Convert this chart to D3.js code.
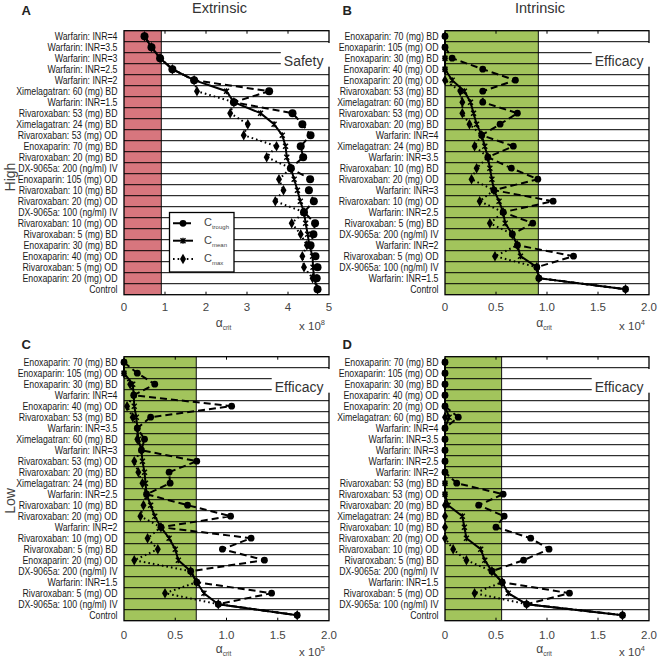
<!DOCTYPE html>
<html><head><meta charset="utf-8">
<script src="https://cdn.jsdelivr.net/npm/d3@7"></script>
<style>body{margin:0;background:#fff} svg{display:block}</style>
</head><body>
<script>
// ---------- DATA ----------
const catsA = ["Warfarin: INR=4","Warfarin: INR=3.5","Warfarin: INR=3","Warfarin: INR=2.5","Warfarin: INR=2","Ximelagatran: 60 (mg) BD","Warfarin: INR=1.5","Rivaroxaban: 53 (mg) BD","Ximelagatran: 24 (mg) BD","Rivaroxaban: 53 (mg) OD","Enoxaparin: 70 (mg) BD","Rivaroxaban: 20 (mg) BD","DX-9065a: 200 (ng/ml) IV","Enoxaparin: 105 (mg) OD","Rivaroxaban: 10 (mg) BD","Rivaroxaban: 20 (mg) OD","DX-9065a: 100 (ng/ml) IV","Rivaroxaban: 10 (mg) OD","Rivaroxaban: 5 (mg) BD","Enoxaparin: 30 (mg) BD","Enoxaparin: 40 (mg) OD","Rivaroxaban: 5 (mg) OD","Enoxaparin: 20 (mg) OD","Control"];
const troughA = [0.50,0.67,0.88,1.18,1.71,3.54,2.68,4.11,4.35,4.55,4.31,4.37,4.07,4.54,4.51,4.63,4.39,4.66,4.62,4.55,4.67,4.72,4.70,4.72];
const meanA   = [0.50,0.67,0.88,1.18,1.71,2.50,2.68,3.33,3.66,3.86,3.94,3.97,4.07,4.15,4.23,4.30,4.39,4.43,4.48,4.52,4.60,4.61,4.64,4.72];
const maxA    = [0.50,0.67,0.88,1.18,1.71,1.78,2.68,2.59,3.02,2.92,3.72,3.48,4.07,3.78,3.89,3.69,4.39,4.09,4.31,4.46,4.35,4.39,4.60,4.72];

const catsB = ["Enoxaparin: 70 (mg) BD","Enoxaparin: 105 (mg) OD","Enoxaparin: 30 (mg) BD","Enoxaparin: 40 (mg) OD","Enoxaparin: 20 (mg) OD","Rivaroxaban: 53 (mg) BD","Ximelagatran: 60 (mg) BD","Rivaroxaban: 53 (mg) OD","Rivaroxaban: 20 (mg) BD","Warfarin: INR=4","Ximelagatran: 24 (mg) BD","Warfarin: INR=3.5","Rivaroxaban: 10 (mg) BD","Rivaroxaban: 20 (mg) OD","Warfarin: INR=3","Rivaroxaban: 10 (mg) OD","Warfarin: INR=2.5","Rivaroxaban: 5 (mg) BD","DX-9065a: 200 (ng/ml) IV","Warfarin: INR=2","Rivaroxaban: 5 (mg) OD","DX-9065a: 100 (ng/ml) IV","Warfarin: INR=1.5","Control"];
const troughB = [0,0,0.07,0.37,0.69,0.37,0.37,0.71,0.54,0.36,0.67,0.42,0.65,0.91,0.48,1.06,0.57,0.86,0.66,0.71,1.26,0.90,0.92,1.77];
const meanB   = [0,0,0,0,0.07,0.19,0.25,0.28,0.31,0.36,0.39,0.42,0.44,0.46,0.48,0.53,0.57,0.59,0.66,0.71,0.74,0.90,0.92,1.77];
const maxB    = [0,0,0,0,0,0.15,0.17,0.17,0.24,0.36,0.29,0.42,0.31,0.26,0.48,0.34,0.57,0.44,0.66,0.71,0.49,0.90,0.92,1.77];

const catsC = ["Enoxaparin: 70 (mg) BD","Enoxaparin: 105 (mg) OD","Enoxaparin: 30 (mg) BD","Warfarin: INR=4","Enoxaparin: 40 (mg) OD","Rivaroxaban: 53 (mg) BD","Warfarin: INR=3.5","Ximelagatran: 60 (mg) BD","Warfarin: INR=3","Rivaroxaban: 53 (mg) OD","Rivaroxaban: 20 (mg) BD","Ximelagatran: 24 (mg) BD","Warfarin: INR=2.5","Rivaroxaban: 10 (mg) BD","Rivaroxaban: 20 (mg) OD","Warfarin: INR=2","Rivaroxaban: 10 (mg) OD","Rivaroxaban: 5 (mg) BD","Enoxaparin: 20 (mg) OD","DX-9065a: 200 (ng/ml) IV","Warfarin: INR=1.5","Rivaroxaban: 5 (mg) OD","DX-9065a: 100 (ng/ml) IV","Control"];
const troughC = [0,0.13,0.30,0.095,1.05,0.26,0.13,0.20,0.17,0.71,0.44,0.45,0.22,0.62,1.04,0.36,1.24,0.96,1.37,0.65,0.71,1.44,0.92,1.69];
const meanC   = [0,0,0.085,0.095,0.10,0.12,0.13,0.14,0.17,0.18,0.20,0.21,0.22,0.26,0.30,0.36,0.44,0.50,0.53,0.65,0.71,0.78,0.92,1.69];
const maxC    = [0,0,0.06,0.095,0.03,0.085,0.13,0.13,0.17,0.10,0.14,0.18,0.22,0.19,0.16,0.36,0.23,0.33,0.10,0.65,0.71,0.40,0.92,1.69];

const catsD = ["Enoxaparin: 70 (mg) BD","Enoxaparin: 105 (mg) OD","Enoxaparin: 30 (mg) BD","Enoxaparin: 40 (mg) OD","Enoxaparin: 20 (mg) OD","Ximelagatran: 60 (mg) BD","Warfarin: INR=4","Warfarin: INR=3.5","Warfarin: INR=3","Warfarin: INR=2.5","Warfarin: INR=2","Rivaroxaban: 53 (mg) BD","Rivaroxaban: 53 (mg) OD","Rivaroxaban: 20 (mg) BD","Ximelagatran: 24 (mg) BD","Rivaroxaban: 10 (mg) BD","Rivaroxaban: 20 (mg) OD","Rivaroxaban: 10 (mg) OD","Rivaroxaban: 5 (mg) BD","DX-9065a: 200 (ng/ml) IV","Warfarin: INR=1.5","Rivaroxaban: 5 (mg) OD","DX-9065a: 100 (ng/ml) IV","Control"];
const troughD = [0,0,0,0,0,0.13,0,0,0,0,0,0.115,0.57,0.33,0.58,0.50,0.84,1.02,0.77,0.46,0.56,1.22,0.80,1.74];
const meanD   = [0,0,0,0,0,0.04,0,0,0,0,0,0,0,0.03,0.17,0.19,0.21,0.35,0.39,0.46,0.56,0.62,0.80,1.74];
const maxD    = [0,0,0,0,0,0,0,0,0,0,0,0,0,0,0,0,0,0.08,0.21,0.46,0.56,0.29,0.80,1.74];

const ticksA = [0,1,2,3,4,5];
const tickLabelsA = ["0","1","2","3","4","5"];
const ticksB = [0,0.5,1,1.5,2];
const tickLabelsB = ["0","0.5","1.0","1.5","2.0"];

const thresholds = {A:0.91, B:0.915, C:0.705, D:0.555};
const exponents = {A:"8", B:"4", C:"5", D:"4"};
const boxTexts = {A:"Safety", B:"Efficacy", C:"Efficacy", D:"Efficacy"};
const titles = {A:"Extrinsic", B:"Intrinsic"};
const legendLabels = ["trough","mean","max"];

// ---------- LAYOUT ----------
const W=661,H=658;
const PINK="#D7767E", GREEN="#A2C45C";
const svg=d3.select("body").append("svg").attr("width",W).attr("height",H)
  .style("font-family","'Liberation Sans', Arial, sans-serif");

const panels = [
  {id:"A", cats:catsA, trough:troughA, mean:meanA, max:maxA, ticks:ticksA, tl:tickLabelsA, domain:[0,5], x0:124, x1:329, y0:30.7, y1:294.7, band:PINK, r:4.0, tOff:15.8, lx:21.5, ly:14.5},
  {id:"B", cats:catsB, trough:troughB, mean:meanB, max:maxB, ticks:ticksB, tl:tickLabelsB, domain:[0,2], x0:445, x1:649, y0:30.7, y1:294.7, band:GREEN, r:3.4, tOff:15.8, lx:342.5, ly:14.5},
  {id:"C", cats:catsC, trough:troughC, mean:meanC, max:maxC, ticks:ticksB, tl:tickLabelsB, domain:[0,2], x0:124, x1:329, y0:356.7, y1:620.7, band:GREEN, r:3.4, tOff:18, lx:21.5, ly:349},
  {id:"D", cats:catsD, trough:troughD, mean:meanD, max:maxD, ticks:ticksB, tl:tickLabelsB, domain:[0,2], x0:445, x1:649, y0:356.7, y1:620.7, band:GREEN, r:3.4, tOff:18, lx:342.5, ly:349},
];

const diamond = "M0,-5.3L3,0L0,5.3L-3,0Z";
function meanMark(sel){
  sel.append("path").attr("d","M-2.5,-2.5L2.5,2.5M-2.5,2.5L2.5,-2.5M0,-3L0,3")
    .attr("stroke","#000").attr("stroke-width",1.4).attr("fill","none");
}

panels.forEach(p=>{
  const x=d3.scaleLinear().domain(p.domain).range([p.x0,p.x1]);
  const y=d3.scaleBand().domain(p.cats).range([p.y0,p.y1]);
  const yc=c=>y(c)+y.bandwidth()/2;
  const g=svg.append("g");

  g.append("rect").attr("x",x(0)).attr("y",p.y0).attr("width",x(thresholds[p.id])-x(0))
    .attr("height",p.y1-p.y0).attr("fill",p.band);
  g.append("line").attr("x1",x(thresholds[p.id])).attr("x2",x(thresholds[p.id]))
    .attr("y1",p.y0).attr("y2",p.y1).attr("stroke","#111").attr("stroke-width",1);

  g.selectAll("line.row").data(p.cats.slice(1)).join("line").attr("class","row")
    .attr("x1",p.x0).attr("x2",p.x1).attr("y1",d=>y(d)).attr("y2",d=>y(d))
    .attr("stroke","#000").attr("stroke-width",1);

  g.append("rect").attr("x",p.x0).attr("y",p.y0).attr("width",p.x1-p.x0).attr("height",p.y1-p.y0)
    .attr("fill","none").attr("stroke","#000").attr("stroke-width",1.3);

  // box label
  const bw = y.bandwidth();
  const tx = g.append("text").attr("x",p.x1-5.5).attr("y",p.y0+bw*3.2).attr("text-anchor","end")
    .attr("font-size",14).attr("fill","#333").text(boxTexts[p.id]);
  const tw = tx.node().getComputedTextLength();
  g.insert("rect","text").attr("x",p.x1-5.5-tw-3).attr("y",p.y0+bw*1.12)
    .attr("width",tw+3+8).attr("height",bw*2.15).attr("fill","#fff");

  // ticks
  const inner = p.ticks.slice(1,-1);
  g.selectAll("line.tt").data(inner).join("line").attr("x1",d=>x(d)).attr("x2",d=>x(d))
    .attr("y1",p.y0).attr("y2",p.y0+3).attr("stroke","#000");
  g.selectAll("line.bt").data(inner).join("line").attr("x1",d=>x(d)).attr("x2",d=>x(d))
    .attr("y1",p.y1-3).attr("y2",p.y1).attr("stroke","#000");
  g.selectAll("text.tl").data(p.ticks).join("text").attr("class","tl")
    .attr("x",d=>x(d)).attr("y",p.y1+p.tOff).attr("text-anchor","middle")
    .attr("font-size",11.5).attr("fill","#444").text((d,i)=>p.tl[i]);

  // category labels (condensed)
  p.cats.forEach(c=>{
    g.append("g").attr("transform",`translate(${p.x0-6.5},${yc(c)}) scale(0.77,1)`)
      .append("text").attr("text-anchor","end").attr("dy","0.36em")
      .attr("font-size",11.4).attr("fill","#1a1a1a").text(c);
  });

  // x axis label
  const xl = g.append("text").attr("x",(p.x0+p.x1)/2-3).attr("y",p.y1+32.5)
    .attr("text-anchor","middle").attr("fill","#444");
  xl.append("tspan").attr("font-size",12).text("α");
  xl.append("tspan").attr("font-size",6.5).attr("dy",2.5).text("crit");
  const xe = g.append("text").attr("x",p.x1-4).attr("y",p.y1+35.5)
    .attr("text-anchor","end").attr("fill","#444");
  xe.append("tspan").attr("font-size",11.5).text("x 10");
  xe.append("tspan").attr("font-size",7.5).attr("dy",-5).text(exponents[p.id]);

  // lines
  const mk = arr => d3.line().x((d,i)=>x(arr[i])).y((d,i)=>yc(p.cats[i]));
  g.append("path").datum(p.cats).attr("d",mk(p.max)).attr("fill","none")
    .attr("stroke","#000").attr("stroke-width",2).attr("stroke-dasharray","1.6,3");
  g.append("path").datum(p.cats).attr("d",mk(p.trough)).attr("fill","none")
    .attr("stroke","#000").attr("stroke-width",2).attr("stroke-dasharray","7,4");
  g.append("path").datum(p.cats).attr("d",mk(p.mean)).attr("fill","none")
    .attr("stroke","#000").attr("stroke-width",2);

  // markers
  g.selectAll("path.dm").data(p.cats).join("path").attr("class","dm")
    .attr("transform",(d,i)=>`translate(${x(p.max[i])},${yc(d)})`).attr("d",diamond).attr("fill","#000");
  g.selectAll("circle.tr").data(p.cats).join("circle").attr("class","tr")
    .attr("cx",(d,i)=>x(p.trough[i])).attr("cy",d=>yc(d)).attr("r",p.r).attr("fill","#000");
  p.cats.forEach((c,i)=>{
    meanMark(g.append("g").attr("transform",`translate(${x(p.mean[i])},${yc(c)})`));
  });

  // panel letter and title
  svg.append("text").attr("x",p.lx).attr("y",p.ly).attr("font-size",13)
    .attr("font-weight","bold").attr("fill","#222").text(p.id);
  if(titles[p.id]) svg.append("text").attr("x",(p.x0+p.x1)/2-7).attr("y",13)
    .attr("text-anchor","middle").attr("font-size",14.5).attr("fill","#333").text(titles[p.id]);
});

// row group labels
svg.append("text").attr("transform","translate(14.5,177) rotate(-90)").attr("text-anchor","middle")
  .attr("font-size",14).attr("fill","#444").text("High");
svg.append("text").attr("transform","translate(14.5,501) rotate(-90)").attr("text-anchor","middle")
  .attr("font-size",14).attr("fill","#444").text("Low");

// legend (panel A)
const lg = svg.append("g");
lg.append("rect").attr("x",169.5).attr("y",212.5).attr("width",64.5).attr("height",59.5)
  .attr("fill","#fff").attr("stroke","#000").attr("stroke-width",1.3);
const ly = [223.3,240.7,259];
const dashes = ["7,4",null,"1.6,3"];
legendLabels.forEach((lab,i)=>{
  const l = lg.append("line").attr("x1",173).attr("x2",193).attr("y1",ly[i]).attr("y2",ly[i])
    .attr("stroke","#000").attr("stroke-width",2);
  if(dashes[i]) l.attr("stroke-dasharray",dashes[i]);
  if(i===0) lg.append("circle").attr("cx",183).attr("cy",ly[i]).attr("r",3.4).attr("fill","#000");
  if(i===1) meanMark(lg.append("g").attr("transform",`translate(183,${ly[i]})`));
  if(i===2) lg.append("path").attr("d",diamond).attr("transform",`translate(183,${ly[i]})`).attr("fill","#000");
  const t = lg.append("text").attr("x",204).attr("y",ly[i]+3).attr("fill","#444");
  t.append("tspan").attr("font-size",11).text("C");
  t.append("tspan").attr("font-size",6).attr("dy",3).text(lab);
});
</script>
</body></html>
